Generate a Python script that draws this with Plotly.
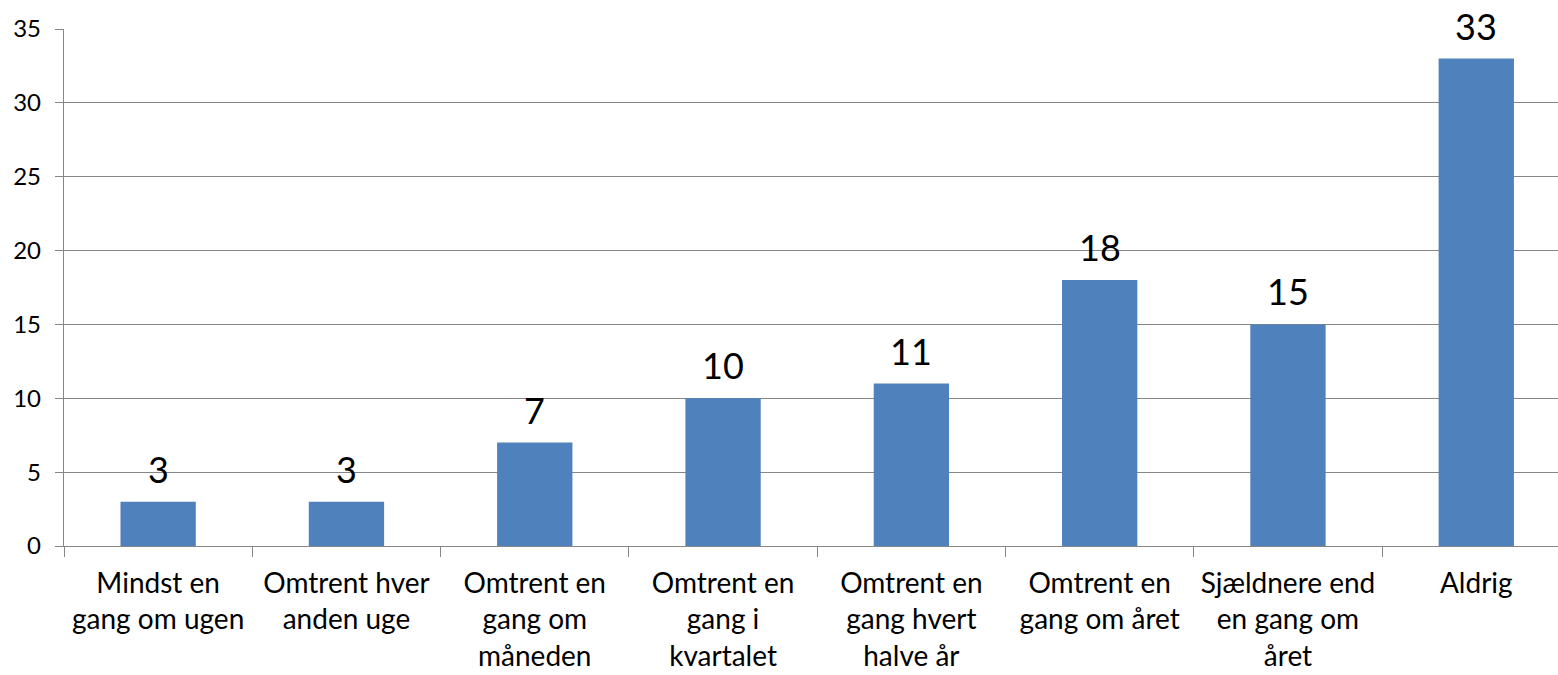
import plotly.graph_objects as go

categories = [
    "Mindst en<br>gang om ugen",
    "Omtrent hver<br>anden uge",
    "Omtrent en<br>gang om<br>måneden",
    "Omtrent en<br>gang i<br>kvartalet",
    "Omtrent en<br>gang hvert<br>halve år",
    "Omtrent en<br>gang om året",
    "Sjældnere end<br>en gang om<br>året",
    "Aldrig",
]
values = [3, 3, 7, 10, 11, 18, 15, 33]
y_ticks = [0, 5, 10, 15, 20, 25, 30, 35]

FONT = "Lato"
GRID = "#868686"

fig = go.Figure()
fig.add_trace(go.Bar(
    x=categories,
    y=values,
    width=0.4,
    marker=dict(color="#4F81BD", line=dict(width=0)),
    cliponaxis=False,
))

for c, v in zip(categories, values):
    fig.add_annotation(
        x=c, y=v, xref="x", yref="y",
        text=str(v), showarrow=False,
        yanchor="bottom", yshift=10, borderpad=0,
        font=dict(family=FONT, size=36, color="#000000"),
    )

fig.update_layout(
    width=1558,
    height=675,
    margin=dict(l=64, r=0, t=29, b=128.5, pad=0),
    paper_bgcolor="white",
    plot_bgcolor="white",
    showlegend=False,
    font=dict(family=FONT, color="#000000"),
    xaxis=dict(
        type="category",
        range=[-0.5, 7.434],
        tickson="boundaries",
        ticks="outside",
        ticklen=10,
        tickwidth=1.4,
        tickcolor=GRID,
        showline=True,
        linecolor=GRID,
        linewidth=1.4,
        showgrid=False,
        tickfont=dict(family=FONT, size=28, color="#000000"),
        tickangle=0,
        ticklabelstandoff=12,
        automargin=False,
    ),
    yaxis=dict(
        range=[0, 35],
        tickvals=y_ticks,
        ticks="outside",
        ticklen=8,
        tickwidth=1.4,
        tickcolor=GRID,
        showline=True,
        linecolor=GRID,
        linewidth=1.4,
        showgrid=True,
        gridcolor=GRID,
        gridwidth=1.4,
        zeroline=False,
        tickfont=dict(family=FONT, size=24, color="#000000"),
        ticklabelstandoff=9,
        automargin=False,
    ),
)

fig.write_html(
    "out.html",
    config={"displayModeBar": False},
    post_script="document.body.style.margin='0';document.body.style.overflow='hidden';",
)
